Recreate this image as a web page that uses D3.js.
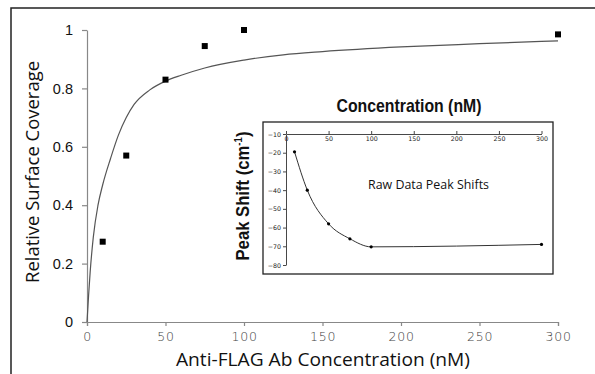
<!DOCTYPE html>
<html>
<head>
<meta charset="utf-8">
<script src="https://cdn.jsdelivr.net/npm/d3@7"></script>
<style>
  body { margin: 0; background: #fff; }
  svg { display: block; }
</style>
</head>
<body>
<div id="chart"></div>
<script>
// measured binding data (main chart)
const concentrations = [10, 25, 50, 75, 100, 300];
const coverage = [0.275, 0.57, 0.83, 0.945, 1.0, 0.985];

// fitted curve
const fitX = [0, 1, 2, 4, 7, 10, 15, 20, 25, 30, 40, 50, 60, 75, 100, 125, 150, 200, 250, 300];
const fitY = [0, 0.09, 0.17, 0.29, 0.40, 0.47, 0.56, 0.64, 0.70, 0.745, 0.795, 0.825, 0.845, 0.87, 0.897, 0.915, 0.926, 0.942, 0.953, 0.963];

// inset: raw peak shifts
const peakShift = [-19.5, -40, -58, -66, -70.3, -69];

const xTicks = [0, 50, 100, 150, 200, 250, 300];
const yTicks = [0, 0.2, 0.4, 0.6, 0.8, 1];
const insetYTicks = [-10, -20, -30, -40, -50, -60, -70, -80];

const width = 595, height = 374;

const svg = d3.select('#chart')
  .append('svg')
  .attr('width', width)
  .attr('height', height);

// outer frame (cut off at right and bottom)
svg.append('path')
  .attr('d', `M11,${height} V8 H${width}`)
  .attr('fill', 'none')
  .attr('stroke', '#222')
  .attr('stroke-width', 1.5);

const x = d3.scaleLinear().domain([0, 300]).range([87, 558]);
const y = d3.scaleLinear().domain([0, 1]).range([322, 30]);

// X axis
const xAxis = svg.append('g')
  .attr('transform', `translate(0,${y(0)})`)
  .call(d3.axisBottom(x).tickValues(xTicks).tickSize(4).tickPadding(6).tickSizeOuter(4));
xAxis.selectAll('text')
  .attr('font-family', 'DejaVu Sans, sans-serif')
  .attr('font-size', 12.5)
  .attr('font-weight', 300)
  .attr('letter-spacing', 0.8)
  .attr('fill', '#444');

// Y axis
const yAxis = svg.append('g')
  .attr('transform', `translate(${x(0)},0)`)
  .call(d3.axisLeft(y).tickValues(yTicks).tickFormat(d3.format('')).tickSize(5).tickPadding(9).tickSizeOuter(0));
yAxis.selectAll('text')
  .attr('font-family', 'Liberation Sans, Arial, sans-serif')
  .attr('font-size', 14.5)
  .attr('fill', '#111');

svg.selectAll('.domain, .tick line')
  .attr('stroke', '#888')
  .attr('stroke-width', 1.2);

// axis titles
svg.append('text')
  .attr('x', 323)
  .attr('y', 366)
  .attr('text-anchor', 'middle')
  .attr('font-family', 'Open Sans, sans-serif')
  .attr('font-size', 18.5)
  .attr('fill', '#111')
  .attr('textLength', 294)
  .attr('lengthAdjust', 'spacingAndGlyphs')
  .text('Anti-FLAG Ab Concentration (nM)');

svg.append('text')
  .attr('transform', 'translate(39,172) rotate(-90)')
  .attr('text-anchor', 'middle')
  .attr('font-family', 'Open Sans, sans-serif')
  .attr('font-size', 18)
  .attr('fill', '#111')
  .attr('textLength', 222)
  .attr('lengthAdjust', 'spacingAndGlyphs')
  .text('Relative Surface Coverage');

// fit curve
const fitLine = d3.line()
  .x(d => x(d[0]))
  .y(d => y(d[1]))
  .curve(d3.curveMonotoneX);

svg.append('path')
  .datum(d3.zip(fitX, fitY))
  .attr('d', fitLine)
  .attr('fill', 'none')
  .attr('stroke', '#555')
  .attr('stroke-width', 1.2);

// data squares
svg.selectAll('.pt')
  .data(d3.zip(concentrations, coverage))
  .enter()
  .append('rect')
  .attr('class', 'pt')
  .attr('x', d => x(d[0]) - 3)
  .attr('y', d => y(d[1]) - 3)
  .attr('width', 6)
  .attr('height', 6)
  .attr('fill', '#000');

// ---- inset ----
const inset = svg.append('g');

inset.append('rect')
  .attr('x', 263)
  .attr('y', 122)
  .attr('width', 290)
  .attr('height', 152)
  .attr('fill', '#fff')
  .attr('stroke', '#222')
  .attr('stroke-width', 1.3);

const ix = d3.scaleLinear().domain([0, 300]).range([286, 541.5]);
const iy = d3.scaleLinear().domain([-80, -10]).range([265, 134]);

// x axis on top, ticks up, labels below
inset.append('g')
  .attr('transform', `translate(0,${iy(-10)})`)
  .call(d3.axisBottom(ix).tickValues(xTicks).tickSizeInner(-3).tickSizeOuter(0).tickPadding(3));

inset.append('g')
  .attr('transform', `translate(${ix(0)},0)`)
  .call(d3.axisLeft(iy).tickValues(insetYTicks).tickSize(3).tickPadding(2).tickSizeOuter(0));

inset.selectAll('.domain, .tick line')
  .attr('stroke', '#333')
  .attr('stroke-width', 0.9);
inset.selectAll('text')
  .attr('font-family', 'DejaVu Sans, sans-serif')
  .attr('font-size', 6.3)
  .attr('fill', '#222');

const insetLine = d3.line()
  .x(d => ix(d[0]))
  .y(d => iy(d[1]))
  .curve(d3.curveMonotoneX);

inset.append('path')
  .datum(d3.zip(concentrations, peakShift))
  .attr('d', insetLine)
  .attr('fill', 'none')
  .attr('stroke', '#333')
  .attr('stroke-width', 1);

inset.selectAll('.ipt')
  .data(d3.zip(concentrations, peakShift))
  .enter()
  .append('circle')
  .attr('cx', d => ix(d[0]))
  .attr('cy', d => iy(d[1]))
  .attr('r', 1.6)
  .attr('fill', '#000');

inset.append('text')
  .attr('x', 428.5)
  .attr('y', 189)
  .attr('text-anchor', 'middle')
  .attr('font-family', 'Open Sans, sans-serif')
  .attr('font-size', 13.5)
  .attr('fill', '#111')
  .attr('textLength', 121)
  .attr('lengthAdjust', 'spacingAndGlyphs')
  .text('Raw Data Peak Shifts');

// inset titles (outside box)
svg.append('text')
  .attr('x', 409)
  .attr('y', 112)
  .attr('text-anchor', 'middle')
  .attr('font-family', 'Liberation Sans Narrow, Arial Narrow, Liberation Sans, sans-serif')
  .attr('font-weight', 'bold')
  .attr('font-size', 19)
  .attr('fill', '#111')
  .attr('textLength', 145)
  .attr('lengthAdjust', 'spacingAndGlyphs')
  .text('Concentration (nM)');

const ps = svg.append('text')
  .attr('transform', 'translate(249,196) rotate(-90)')
  .attr('text-anchor', 'middle')
  .attr('font-family', 'Liberation Sans Narrow, Arial Narrow, Liberation Sans, sans-serif')
  .attr('font-weight', 'bold')
  .attr('font-size', 19)
  .attr('fill', '#111')
  .attr('textLength', 129)
  .attr('lengthAdjust', 'spacingAndGlyphs');
ps.append('tspan').text('Peak Shift (cm');
ps.append('tspan').attr('dy', -7).attr('font-size', 11).text('-1');
ps.append('tspan').attr('dy', 7).text(')');
</script>
</body>
</html>
